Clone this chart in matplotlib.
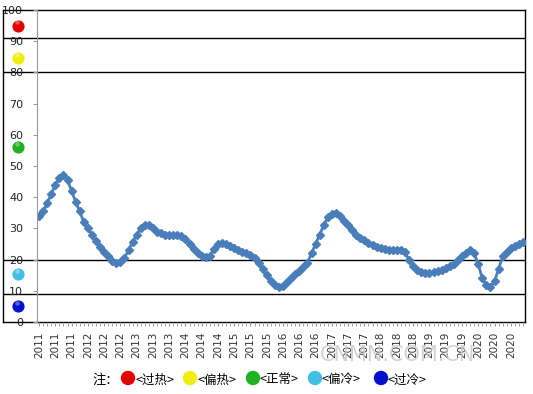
import matplotlib
matplotlib.use('Agg')
from matplotlib import pyplot as plt

plt.rcParams['font.family'] = ['DejaVu Sans', 'Noto Sans CJK SC']

# monthly index, Jan 2011 .. Dec 2020
index_y = [34, 35.5, 38, 41, 44, 46, 47, 45.5, 42, 38.5,
           35.5, 32, 30, 28, 26, 24, 22.5, 21, 19.5, 19,
           19.2, 20.5, 23, 25.6, 28, 30, 31, 31, 30, 29,
           28.5, 28, 28, 28, 27.8, 27.5, 26.5, 25, 23.5, 22,
           21, 20.8, 21.2, 23.5, 25, 25.3, 25, 24.2, 23.7, 23,
           22.5, 22, 21.4, 20.5, 19, 17, 15, 13, 12, 11.2,
           11.5, 12.8, 14, 15.5, 16.5, 17.5, 19, 22, 25, 28,
           31, 33.5, 34.5, 35, 34, 32.5, 31, 29.5, 28, 27,
           26.2, 25.2, 24.6, 24, 23.6, 23.3, 23, 23, 23, 23,
           22.3, 19.8, 18, 16.6, 16, 15.7, 15.7, 16, 16.4, 16.8,
           17.3, 17.8, 18.6, 19.8, 21, 22, 23, 22, 18.5, 14,
           11.8, 11.2, 13, 17, 21, 22.4, 23.6, 24.2, 25, 25.5]

tick_labels = [str(y) for y in range(2011, 2021) for _ in range(3)]
y_ticks = list(range(0, 101, 10))
band_lines = [91, 80, 20, 9]

ball_y = [95, 84.5, 56, 15.5, 5]
ball_colors = ['#e00000', '#eeee10', '#20b020', '#40c0e0', '#0010d0']
legend_names = ['<过热>', '<偏热>', '<正常>', '<偏冷>', '<过冷>']

fig = plt.figure(figsize=(5.33, 3.94), dpi=100)

# outer frame with the band lines and the status balls
frame = fig.add_axes([3/533, 72/394, 522/533, 312/394])
frame.set_xlim(0, 522)
frame.set_ylim(0, 100)
frame.set_xticks([])
frame.set_yticks([])
for s in frame.spines.values():
    s.set_color('black')
    s.set_linewidth(1)
for v in band_lines:
    frame.axhline(v, color='black', lw=1)
for y, c in zip(ball_y, ball_colors):
    frame.scatter(15, y, s=60, color=c, zorder=3)
    frame.scatter(13.5, y + 1, s=10, color='white', alpha=0.35, zorder=4, lw=0)

# data axes
ax = fig.add_axes([37/533, 72/394, 488/533, 312/394])
ax.patch.set_alpha(0)
x = list(range(len(index_y)))
ax.plot(x, index_y, color='#4a7ebb', lw=2, marker='D', markersize=4.2)
ax.set_xlim(-0.5, len(index_y) - 0.5)
ax.set_ylim(0, 100)
ax.set_yticks(y_ticks)
ax.tick_params(axis='y', length=3, pad=7, labelsize=8, color='#999999', labelcolor='#222222')
ax.set_xticks(range(0, 120, 4))
ax.set_xticklabels(tick_labels, rotation=90, fontsize=7.5, color='#333333')
ax.set_xticks(range(120), minor=True)
ax.tick_params(axis='x', which='both', length=3, color='#999999', pad=4)
for k in ['top', 'right', 'bottom']:
    ax.spines[k].set_visible(False)
ax.spines['left'].set_color('#999999')

# watermark
fig.text(398/533, 1 - 355/394, 'CNMN.COM.CN', fontsize=15, color='#c8c8c8',
         ha='center', va='center', alpha=0.8)

# legend note
ly = 1 - 380/394
fig.text(92/533, ly, '注：', fontsize=9.5, va='center', family=['Noto Sans CJK SC'])
ball_x = [128, 190, 253, 315, 381]
for bx, c, name in zip(ball_x, ball_colors, legend_names):
    fig.patches.append(matplotlib.patches.Ellipse((bx/533, 1 - 378/394), 13/533, 13/394,
                       transform=fig.transFigure, color=c, figure=fig))
    fig.text((bx + 7)/533, ly, name, fontsize=9, va='center', family=['Noto Sans CJK SC'])

fig.savefig('out.png', dpi=100)
